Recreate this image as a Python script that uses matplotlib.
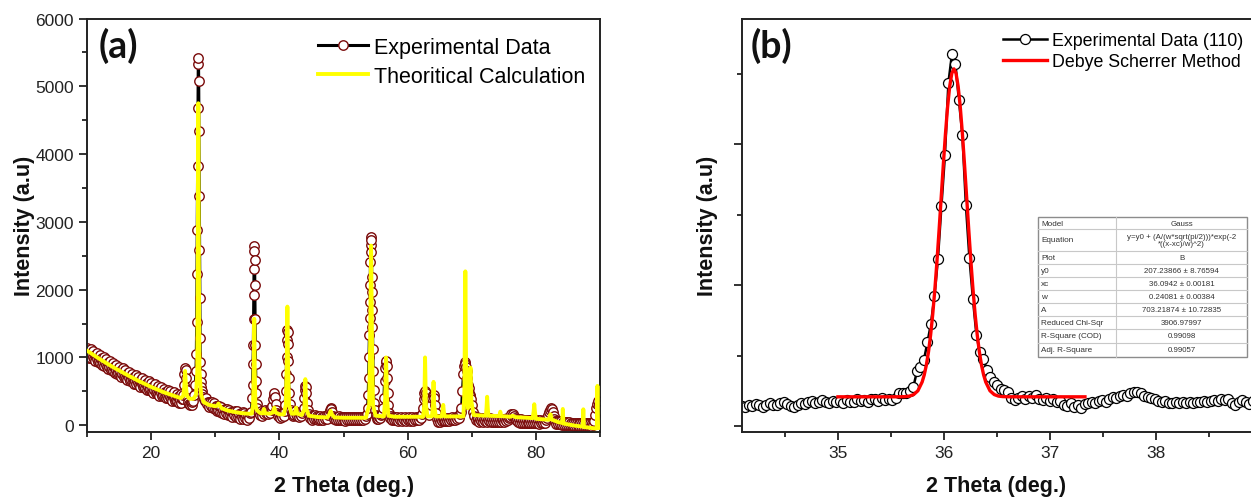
import matplotlib
matplotlib.use('Agg')
import matplotlib.pyplot as plt
from matplotlib.ticker import MultipleLocator

plt.rcParams['font.family'] = ['Liberation Sans', 'DejaVu Sans']

# ================= Panel (a): experimental pattern =================
# Background stretches are sampled on a regular 2-theta grid: (start, step, y-values)
bgA_start, bgA_step = 10.0, 0.1
bgA_y = [1140, 1030, 1085, 995, 1095, 1035, 1120, 990, 1045, 1005,
         1090, 979, 1034, 943, 1043, 982, 1067, 936, 991, 950,
         1035, 924, 978, 887, 986, 925, 1009, 878, 932, 891,
         975, 864, 919, 828, 927, 866, 951, 820, 874, 834,
         918, 807, 861, 771, 870, 809, 893, 762, 817, 776,
         860, 750, 805, 714, 814, 754, 839, 709, 763, 723,
         808, 698, 753, 663, 763, 703, 788, 658, 713, 673,
         758, 648, 703, 614, 714, 654, 739, 609, 665, 625,
         710, 600, 656, 566, 666, 607, 692, 562, 617, 578,
         663, 554, 609, 520, 620, 561, 646, 517, 572, 533,
         618, 509, 565, 475, 576, 517, 603, 474, 529, 490,
         576, 467, 523, 434, 535, 476, 562, 433, 489, 450,
         536, 427, 484, 395, 497, 438, 524, 396, 452, 414,
         500, 391, 448, 360, 461, 402, 489, 361, 417, 379,
         465, 357, 415, 328, 430, 372, 460, 333, 390]
pk25_x = [24.9, 25.0, 25.1, 25.2, 25.3, 25.4, 25.5, 25.6, 25.7, 25.8, 25.9, 26.0, 26.15,
          26.3, 26.45, 26.6, 26.75, 26.9, 27.0]
pk25_y = [390, 450, 600, 760, 840, 820, 700, 520, 400, 340, 320, 300, 330,
          300, 340, 360, 450, 600, 800]
pk27_x = [27.05, 27.1, 27.15, 27.2, 27.25, 27.3, 27.35, 27.38, 27.42, 27.46, 27.5, 27.54,
          27.58, 27.62, 27.66, 27.7, 27.76, 27.84, 27.92, 28.0, 28.1, 28.25, 28.4]
pk27_y = [1050, 1530, 2230, 2880, 3820, 4680, 5330, 5420, 5080, 4345, 3385, 2586,
          1872, 1280, 936, 760, 640, 560, 500, 460, 420, 390, 360]
bgB_start, bgB_step = 28.55, 0.15
bgB_y = [402, 310, 347, 270, 342, 289, 345, 247, 324, 235, 278, 207, 281, 230, 289, 193,
         272, 187, 231, 161, 236, 185, 245, 150, 231, 148, 194, 125, 201, 153, 214, 121,
         203, 120, 167, 99, 176, 128, 191, 99, 182, 100, 147, 80, 158, 112, 175]
pk36_x = [35.65, 35.75, 35.82, 35.88, 35.94, 35.98, 36.02, 36.05, 36.08, 36.11, 36.14,
          36.17, 36.21, 36.25, 36.29, 36.33, 36.38, 36.45, 36.55, 36.7]
pk36_y = [200, 400, 600, 900, 1190, 1560, 1920, 2300, 2640, 2575, 2440,
          2070, 1570, 1190, 900, 650, 470, 320, 250, 190]
bgC_start, bgC_step = 36.85, 0.15
bgC_y = [200, 150, 215, 140, 200, 160, 230, 175, 215, 160, 220, 180, 250, 230]
pk39_x = [38.9, 39.0, 39.1, 39.2, 39.3, 39.4, 39.5]
pk39_y = [280, 380, 450, 470, 420, 320, 220]
bgD_start, bgD_step = 39.6, 0.15
bgD_y = [180, 130, 170, 110, 165, 120, 175, 140, 210]
pk41_x = [40.9, 41.0, 41.06, 41.12, 41.18, 41.23, 41.28, 41.33, 41.38, 41.44, 41.5]
pk41_y = [300, 500, 750, 1000, 1250, 1400, 1380, 1200, 950, 700, 480]
bgE_start, bgE_step = 41.6, 0.15
bgE_y = [320, 220, 180, 130, 190, 150, 215, 170, 130, 175, 120, 165, 130, 185, 210]
pk44_x = [43.8, 43.9, 43.98, 44.05, 44.12, 44.2, 44.3, 44.4]
pk44_y = [260, 400, 520, 580, 560, 470, 330, 220]
bgF_start, bgF_step = 44.6, 0.15
bgF_y = [160, 100, 140, 80, 135, 95, 150, 85, 130, 75, 125, 90, 140, 80, 120, 75, 130, 90,
         140, 95, 150]
pk48_x = [47.8, 47.9, 48.0, 48.1, 48.2, 48.35]
pk48_y = [180, 230, 250, 240, 190, 140]
bgG_start, bgG_step = 48.5, 0.15
bgG_y = [85, 125, 70, 120, 80, 130, 75, 115, 70, 125, 80, 120, 65, 115, 75, 125, 70, 115,
         80, 125, 70, 115, 75, 125, 80, 120, 70, 125, 80, 120, 75, 125, 90, 130, 160]
pk54_x = [53.75, 53.85, 53.92, 53.98, 54.03, 54.08, 54.12, 54.16, 54.2, 54.24, 54.28,
          54.32, 54.36, 54.4, 54.44, 54.48, 54.52, 54.57, 54.62, 54.68, 54.75, 54.85]
pk54_y = [250, 450, 700, 1000, 1330, 1580, 1820, 2070, 2410, 2660, 2780,
          2735, 2560, 2190, 1970, 1700, 1450, 1130, 800, 520, 330, 220]
bgH_start, bgH_step = 55.0, 0.15
bgH_y = [150, 95, 130, 85, 125, 100, 145, 170, 250]
pk56_x = [56.3, 56.4, 56.5, 56.58, 56.66, 56.74, 56.82, 56.9, 57.0]
pk56_y = [400, 650, 850, 940, 950, 880, 700, 480, 300]
bgI_start, bgI_step = 57.15, 0.15
bgI_y = [180, 110, 140, 80, 120, 70, 115, 75, 120, 65, 110, 75, 120, 65, 110, 70, 115, 65,
         110, 75, 120, 65, 110, 70, 115, 65, 110, 75, 120, 70, 115, 80, 120, 100, 160]
pk62_x = [62.4, 62.5, 62.6, 62.7, 62.8, 62.9, 63.0, 63.15, 63.35, 63.55,
          63.7, 63.85, 63.95, 64.05, 64.15, 64.25, 64.4]
pk62_y = [250, 380, 470, 500, 480, 400, 280, 180, 150, 200,
          300, 400, 450, 450, 400, 300, 180]
bgJ_start, bgJ_step = 64.55, 0.15
bgJ_y = [90, 50, 90, 45, 95, 55, 100, 60, 105, 60, 100, 65, 110, 65, 105, 70, 115, 70, 110,
         80, 120, 85, 130, 110, 160, 190]
pk69_x = [68.4, 68.55, 68.7, 68.8, 68.9, 69.0, 69.1, 69.2, 69.3, 69.4, 69.5, 69.6, 69.7,
          69.8, 69.9, 70.0, 70.15, 70.35]
pk69_y = [250, 500, 750, 880, 930, 900, 860, 800, 700, 600, 550, 480, 450,
          430, 380, 300, 200, 130]
bgK_start, bgK_step = 70.6, 0.15
bgK_y = [80, 115, 55, 100, 50, 95, 55, 100, 50, 95,
         55, 100, 50, 95, 55, 100, 45, 95, 50, 90,
         45, 95, 50, 90, 45, 95, 50, 90, 55, 95,
         50, 95, 60, 100, 70, 110, 120, 160, 140, 165,
         130, 110, 70, 95, 45, 85, 40, 85, 40, 80,
         35, 80, 35, 80, 40, 75, 35, 75, 30, 75,
         35, 75, 30, 70, 30, 70, 25, 70, 30, 65,
         30, 70, 40, 80, 100, 150, 190, 230, 250, 240,
         200, 140, 90, 60, 20, 60, 15, 55, 15, 55,
         10, 50, 10, 50, 5, 45, 5, 45, 0, 40,
         0, 40, -5, 40, -5, 35, -5, 35, -10, 35,
         -10, 35, -10, 30, -10, 30, -15, 30, -15, 30,
         -15, 30, 0, 60, 150, 260, 320, 350, 300, 220]

# ================= Panel (a): theoretical calculation =================
theo_x = [10.0, 12.0, 14.0, 16.0, 18.0, 20.0, 22.0, 24.0, 24.6, 25.0, 25.15, 25.3,
          25.45, 25.6, 26.0, 26.6, 27.0, 27.2, 27.28, 27.36, 27.44, 27.54, 27.8, 28.2,
          29.0, 30.0, 30.35, 30.5, 30.7, 31.0, 32.0, 33.0, 34.0, 35.0, 35.7, 35.9,
          36.0, 36.08, 36.16, 36.26, 36.5, 37.0, 37.4, 37.6, 37.8, 38.5, 39.0, 39.2,
          39.4, 40.0, 40.7, 41.0, 41.15, 41.25, 41.35, 41.5, 41.9, 42.4, 42.6, 42.8,
          43.5, 43.9, 44.05, 44.2, 44.6, 46.0, 47.5, 47.8, 48.0, 48.2, 48.6, 50.0,
          53.5, 54.0, 54.15, 54.3, 54.45, 54.6, 55.0, 56.3, 56.5, 56.64, 56.78, 57.0,
          58.0, 62.4, 62.6, 62.72, 62.85, 63.1, 63.8, 63.95, 64.04, 64.13, 64.4, 65.3,
          65.45, 65.55, 65.65, 65.8, 68.7, 68.85, 69.0, 69.15, 69.4, 69.65, 69.8, 69.95,
          70.3, 72.2, 72.3, 72.4, 72.5, 72.6, 74.3, 74.45, 74.6, 76.0, 76.4, 76.8,
          79.5, 79.65, 79.75, 79.85, 80.0, 82.0, 82.2, 82.3, 82.45, 83.5, 84.1, 84.2,
          84.3, 86.0, 87.3, 87.4, 87.5, 89.0, 89.5, 89.6, 89.7, 90.0]
theo_y = [1100, 975, 860, 755, 655, 565, 485, 420, 400, 430, 550, 800,
          550, 430, 390, 390, 450, 800, 2500, 4750, 2500, 800, 450, 340,
          300, 280, 290, 320, 290, 250, 215, 195, 180, 170, 170, 300,
          800, 1570, 800, 300, 220, 180, 175, 240, 175, 170, 190, 260,
          190, 160, 160, 300, 900, 1750, 900, 300, 170, 170, 260, 170,
          150, 240, 680, 240, 140, 120, 115, 160, 210, 160, 115, 110,
          110, 300, 1200, 2650, 1200, 300, 140, 130, 400, 1000, 400, 140,
          125, 125, 300, 1000, 300, 130, 130, 300, 640, 300, 130, 130,
          200, 300, 200, 130, 130, 500, 2270, 500, 250, 350, 850, 350,
          150, 140, 250, 420, 250, 140, 135, 200, 135, 125, 140, 120,
          105, 200, 310, 200, 95, 80, 150, 160, 85, 45, 35, 240,
          25, -5, -20, 235, -25, -45, -45, 580, -40, -40]

# ================= Panel (b) data =================
b_x_start, b_x_step = 34.095, 0.033
exp_b_y = [145, 135, 150, 140, 155, 148, 138, 152, 160, 146, 150, 165, 172, 158, 145,
           138, 152, 162, 158, 170, 178, 165, 172, 182, 170, 160, 175, 168, 178, 162,
           185, 172, 168, 190, 178, 186, 172, 195, 188, 180, 200, 185, 190, 185, 200,
           232, 232, 232, 245, 280, 387, 418, 470, 593, 726, 920, 1186, 1561, 1922, 2439,
           2640, 2574, 2315, 2066, 1568, 1193, 904, 648, 522, 475, 400, 346, 311, 288, 265,
           253, 242, 200, 184, 200, 215, 195, 210, 200, 218, 195, 185, 200, 180, 190,
           170, 180, 150, 140, 160, 135, 150, 130, 155, 165, 172, 160, 178, 185, 170,
           195, 205, 198, 215, 222, 210, 235, 242, 238, 232, 215, 205, 200, 190, 180,
           168, 175, 160, 165, 172, 160, 168, 162, 170, 165, 172, 168, 175, 170, 180,
           185, 178, 190, 182, 188, 160, 150, 172, 185, 170, 158, 175]
fit_x = [35.0, 35.5, 35.594, 35.634, 35.674, 35.714, 35.754, 35.794, 35.814, 35.834,
         35.854, 35.874, 35.894, 35.914, 35.934, 35.954, 35.974, 35.994, 36.014, 36.034,
         36.054, 36.074, 36.094, 36.114, 36.134, 36.154, 36.174, 36.194, 36.214, 36.234,
         36.254, 36.274, 36.294, 36.314, 36.334, 36.354, 36.374, 36.394, 36.434, 36.474,
         36.514, 36.554, 36.594, 36.7, 37.33]
fit_y = [207, 207, 207.4, 208.6, 212, 223, 250, 312, 363, 433,
         526, 646, 793, 969, 1170, 1392, 1625, 1857, 2075, 2265,
         2412, 2505, 2537, 2505, 2412, 2265, 2075, 1857, 1625, 1392,
         1170, 969, 793, 646, 526, 433, 363, 312, 250, 223,
         212, 208.6, 207.4, 207, 207]

table_names = ['Model', 'Equation', 'Plot', 'y0', 'xc', 'w', 'A', 'Reduced Chi-Sqr',
               'R-Square (COD)', 'Adj. R-Square']
table_values = ['Gauss', 'y=y0 + (A/(w*sqrt(pi/2)))*exp(-2\n*((x-xc)/w)^2)', 'B',
                '207.23866 \u00b1 8.76594', '36.0942 \u00b1 0.00181', '0.24081 \u00b1 0.00384',
                '703.21874 \u00b1 10.72835', '3906.97997', '0.99098', '0.99057']


def grid(start, step, values):
    return [round(start + step * i, 3) for i in range(len(values))]


segments = [
    (grid(bgA_start, bgA_step, bgA_y), bgA_y), (pk25_x, pk25_y), (pk27_x, pk27_y),
    (grid(bgB_start, bgB_step, bgB_y), bgB_y), (pk36_x, pk36_y),
    (grid(bgC_start, bgC_step, bgC_y), bgC_y), (pk39_x, pk39_y),
    (grid(bgD_start, bgD_step, bgD_y), bgD_y), (pk41_x, pk41_y),
    (grid(bgE_start, bgE_step, bgE_y), bgE_y), (pk44_x, pk44_y),
    (grid(bgF_start, bgF_step, bgF_y), bgF_y), (pk48_x, pk48_y),
    (grid(bgG_start, bgG_step, bgG_y), bgG_y), (pk54_x, pk54_y),
    (grid(bgH_start, bgH_step, bgH_y), bgH_y), (pk56_x, pk56_y),
    (grid(bgI_start, bgI_step, bgI_y), bgI_y), (pk62_x, pk62_y),
    (grid(bgJ_start, bgJ_step, bgJ_y), bgJ_y), (pk69_x, pk69_y),
    (grid(bgK_start, bgK_step, bgK_y), bgK_y),
]
exp_a_x, exp_a_y = [], []
for sx, sy in segments:
    n = min(len(sx), len(sy))
    exp_a_x += list(sx[:n])
    exp_a_y += list(sy[:n])

# ================= Figure =================
W, H = 1251, 502
fig = plt.figure(figsize=(W / 100, H / 100), dpi=100)


def fx(px):
    return px / W


def fy(py):
    return 1 - py / H


def style_axes(ax):
    for s in ax.spines.values():
        s.set_linewidth(1.4)
        s.set_color('#222222')
    ax.tick_params(which='both', direction='out', top=False, right=False,
                   width=1.3, colors='#222222', labelsize=12.5, labelcolor='#222222')
    ax.tick_params(which='major', length=6)
    ax.tick_params(which='minor', length=3.5)


TOP, BOT = 19.5, 433
LABEL_FONT = dict(fontsize=15.5, fontweight='bold', color='#111111')
PANEL_FONT = dict(fontsize=27, fontweight='bold', family=['Lato', 'DejaVu Sans'],
                  color='#111111')

# ---- Panel (a)
axA = fig.add_axes([fx(87), fy(BOT), fx(600) - fx(87), fy(TOP) - fy(BOT)])
axA.plot(exp_a_x, exp_a_y, color='black', lw=2.2, marker='o', ms=6.8,
         mfc='white', mec='#7A0A0A', mew=1.0, label='Experimental Data', zorder=2)
axA.plot(theo_x, theo_y, color='#FFFF00', lw=2.8, label='Theoritical Calculation',
         zorder=3)
axA.set_xlim(10, 90)
axA.set_ylim(-100, 6000)
axA.xaxis.set_major_locator(MultipleLocator(20))
axA.xaxis.set_minor_locator(MultipleLocator(10))
axA.yaxis.set_major_locator(MultipleLocator(1000))
axA.yaxis.set_minor_locator(MultipleLocator(500))
axA.set_xticks([20, 40, 60, 80])
style_axes(axA)
axA.legend(loc='upper left', bbox_to_anchor=(fx(318), fy(38)),
           bbox_transform=fig.transFigure, frameon=False, fontsize=15.5,
           borderpad=0, borderaxespad=0, handlelength=2.3, handletextpad=0.3,
           labelspacing=0.35)
fig.text(fx(99), fy(46), '(a)', ha='left', va='center', **PANEL_FONT)
fig.text(fx(25), fy((TOP + BOT) / 2), 'Intensity (a.u)', rotation=90,
         ha='center', va='center', **LABEL_FONT)
fig.text(fx(344), fy(487), '2 Theta (deg.)', ha='center', va='center', **LABEL_FONT)

# ---- Panel (b)
exp_b_x = grid(b_x_start, b_x_step, exp_b_y)
axB = fig.add_axes([fx(742), fy(BOT), fx(1253) - fx(742), fy(TOP) - fy(BOT)])
axB.plot(exp_b_x, exp_b_y, color='black', lw=1.8, marker='o', ms=7.2,
         mfc='white', mec='black', mew=0.9, label='Experimental Data (110)', zorder=2)
axB.plot(fit_x, fit_y, color='#FF0000', lw=2.4, label='Debye Scherrer Method', zorder=3)
axB.set_xlim(34.095, 38.915)
axB.set_ylim(-43, 2895)
axB.xaxis.set_major_locator(MultipleLocator(1))
axB.xaxis.set_minor_locator(MultipleLocator(0.5))
axB.yaxis.set_major_locator(MultipleLocator(1000))
axB.yaxis.set_minor_locator(MultipleLocator(500))
style_axes(axB)
axB.set_yticklabels([])
axB.legend(loc='upper left', bbox_to_anchor=(fx(1003), fy(33)),
           bbox_transform=fig.transFigure, frameon=False, fontsize=12.8,
           borderpad=0, borderaxespad=0, handlelength=2.5, handletextpad=0.25,
           labelspacing=0.25)
fig.text(fx(751), fy(46), '(b)', ha='left', va='center', **PANEL_FONT)
fig.text(fx(707), fy((TOP + BOT) / 2), 'Intensity (a.u)', rotation=90,
         ha='center', va='center', **LABEL_FONT)
fig.text(fx(996), fy(487), '2 Theta (deg.)', ha='center', va='center', **LABEL_FONT)

# ---- Fit-result table
tx0, tx1, tx2 = 1038, 1116, 1247
row_edges = [218, 230, 252, 265, 278, 291, 304, 317, 330, 344, 358]
for i in range(len(table_names)):
    yc = (row_edges[i] + row_edges[i + 1]) / 2
    fig.text(fx(tx0 + 3), fy(yc), table_names[i], fontsize=5.9, ha='left', va='center',
             color='#333333', zorder=10)
    fig.text(fx((tx1 + tx2) / 2), fy(yc), table_values[i], fontsize=5.7, ha='center',
             va='center', color='#333333', linespacing=1.0, zorder=10)
for yy in row_edges[1:-1]:
    fig.add_artist(plt.Line2D([fx(tx0), fx(tx2)], [fy(yy), fy(yy)], color='#C8C8C8',
                              lw=0.8, zorder=9))
fig.add_artist(plt.Line2D([fx(tx1), fx(tx1)], [fy(row_edges[0]), fy(row_edges[-1])],
                          color='#C8C8C8', lw=0.8, zorder=9))
fig.add_artist(plt.Rectangle((fx(tx0), fy(row_edges[-1])), fx(tx2) - fx(tx0),
                             fy(row_edges[0]) - fy(row_edges[-1]), fill=True,
                             facecolor='white', edgecolor='#8C8C8C', lw=1.0, zorder=8,
                             transform=fig.transFigure))

fig.savefig('out.png', dpi=100)
